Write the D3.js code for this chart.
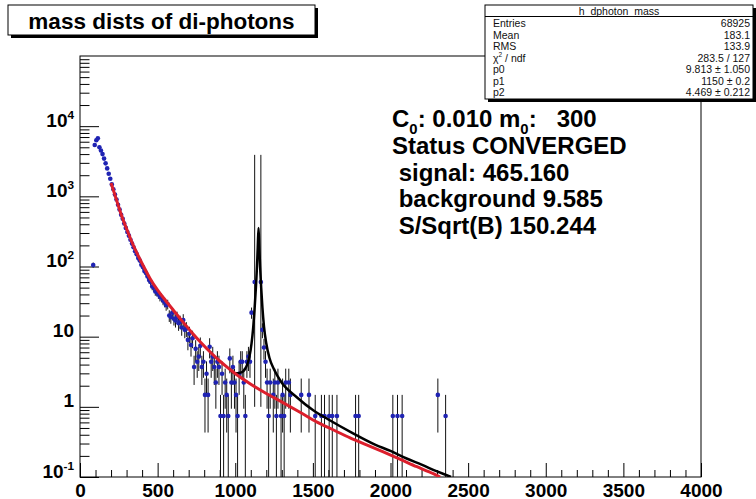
<!DOCTYPE html>
<html>
<head>
<meta charset="utf-8">
<script src="https://cdn.jsdelivr.net/npm/d3@7"></script>
<style>
  body { margin: 0; background: #fff; }
  svg { display: block; }
  text { font-family: "Liberation Sans", Arial, Helvetica, sans-serif; }
</style>
</head>
<body>
<svg id="chart" width="756" height="499"></svg>
<script>
// ---- histogram bins (bin centre in mass, content, lower / upper error) ----
const massBins = [
  85, 95, 105, 115, 125, 135, 145, 155, 165, 175, 185, 195, 205, 215, 225, 235, 245, 255, 265, 275,
  285, 295, 305, 315, 325, 335, 345, 355, 365, 375, 385, 395, 405, 415, 425, 435, 445, 455, 465, 475,
  485, 495, 505, 515, 525, 535, 545, 555, 565, 575, 585, 595, 605, 615, 625, 635, 645, 655, 665, 675,
  685, 695, 705, 715, 725, 735, 745, 755, 765, 775, 785, 795, 805, 815, 825, 835, 845, 855, 865, 875,
  885, 895, 905, 915, 925, 935, 945, 955, 965, 975, 985, 995, 1005, 1015, 1025, 1035, 1045, 1055, 1065, 1075,
  1085, 1095, 1105, 1125, 1165, 1175, 1185, 1195, 1205, 1215, 1225, 1245, 1255, 1265, 1275, 1295, 1305, 1315, 1325, 1345,
  1355, 1425, 1475, 1515, 1555, 1575, 1605, 1625, 1655, 1775, 1795, 2015, 2045, 2075, 2305, 2355
];
const binValues = [
  105, 5400, 6300, 6700, 5000, 4500, 4000, 3450, 2950, 2500, 2100, 1780, 1480, 1260, 1060, 900, 760, 650, 545, 480,
  410, 355, 310, 275, 240, 212, 188, 165, 150, 132, 122, 106, 98, 86, 81, 72, 64, 60, 52, 50,
  44, 43, 40, 37, 36, 33, 31, 28, 29, 20, 19, 22, 18, 17, 19, 15.5, 16.4, 13.5, 17.3, 12.5,
  13, 9, 11, 7.6, 9.5, 3.7, 6.7, 4.4, 5.2, 7.4, 3.7, 4.4, 1.48, 2.96, 1.48, 7.2, 4.4, 5.2, 3.7, 2.22,
  4.4, 3.7, 0.74, 2.96, 0.74, 2.22, 1.48, 0.74, 4.9, 2.22, 3.7, 2.22, 1.48, 0.74, 2.96, 4.4, 4.4, 2.22, 0.74, 4.4,
  5.2, 4.4, 22, 60, 60, 12.5, 7, 4.4, 2.22, 0.74, 2.22, 1.48, 2.22, 0.74, 2.22, 0.74, 1.48, 0.74, 2.22, 2.22,
  1.48, 1.48, 1.48, 0.74, 0.74, 0.74, 0.74, 0.74, 0.74, 0.74, 0.74, 0.74, 0.74, 0.74, 1.48, 0.74
];
const binErrLo = [
  8.8, 63, 68, 70, 61, 58, 54, 50, 47, 43, 39, 36, 33, 31, 28, 26, 24, 22, 20, 19,
  17, 16, 15, 14, 13, 12.5, 12, 11, 10.5, 10, 9.5, 8.9, 8.5, 8, 7.7, 7.3, 6.9, 6.7, 6.2, 6.1,
  5.7, 5.6, 5.4, 5.2, 5.2, 4.9, 4.8, 4.6, 4.6, 3.8, 3.7, 4.0, 3.6, 3.5, 3.7, 3.4, 3.5, 3.2, 3.6, 3.0,
  3.1, 2.6, 2.85, 2.4, 2.65, 1.65, 2.2, 1.81, 1.96, 2.34, 1.65, 1.81, 1.05, 1.48, 1.05, 2.3, 1.81, 1.96, 1.65, 1.28,
  1.81, 1.65, 0.74, 1.48, 0.74, 1.28, 1.05, 0.74, 1.9, 1.28, 1.65, 1.28, 1.05, 0.74, 1.48, 1.81, 1.81, 1.28, 0.74, 1.81,
  1.96, 1.81, 4.0, 59, 59, 3.0, 2.3, 1.81, 1.28, 0.74, 1.28, 1.05, 1.28, 0.74, 1.28, 0.74, 1.05, 0.74, 1.28, 1.28,
  1.05, 1.05, 1.05, 0.74, 0.74, 0.74, 0.74, 0.74, 0.74, 0.74, 0.74, 0.74, 0.74, 0.74, 1.05, 0.74
];
const binErrHi = [
  8.8, 63, 68, 70, 61, 58, 54, 50, 47, 43, 39, 36, 33, 31, 28, 26, 24, 22, 20, 19,
  17, 16, 15, 14, 13, 12.5, 12, 11, 10.5, 10, 9.5, 8.9, 8.5, 8, 7.7, 7.3, 6.9, 6.7, 6.2, 6.1,
  5.7, 5.6, 5.4, 5.2, 5.2, 4.9, 4.8, 4.6, 4.6, 3.8, 3.7, 4.0, 3.6, 3.5, 3.7, 3.4, 3.5, 3.2, 3.6, 3.0,
  3.1, 2.6, 2.85, 2.4, 2.65, 1.65, 2.2, 1.81, 1.96, 2.34, 1.65, 1.81, 1.05, 1.48, 1.05, 2.3, 1.81, 1.96, 1.65, 1.28,
  1.81, 1.65, 0.74, 1.48, 0.74, 1.28, 1.05, 0.74, 1.9, 1.28, 1.65, 1.28, 1.05, 0.74, 1.48, 1.81, 1.81, 1.28, 0.74, 1.81,
  1.96, 1.81, 4.0, 3840, 3840, 3.0, 2.3, 1.81, 1.28, 0.74, 1.28, 1.05, 1.28, 0.74, 1.28, 0.74, 1.05, 0.74, 1.28, 1.28,
  1.05, 1.05, 1.05, 0.74, 0.74, 0.74, 0.74, 0.74, 0.74, 0.74, 0.74, 0.74, 0.74, 0.74, 1.05, 0.74
];

// ---- background fit (red) and signal + background fit (black) ----
const bkgMass   = [200, 220, 240, 260, 280, 300, 330, 370, 410, 450, 500, 550, 600, 660, 720, 780, 840, 900, 960, 1010,
                   1100, 1200, 1310, 1420, 1530, 1640, 1740, 1850, 1950, 2060, 2170, 2250, 2320];
const bkgValues = [1550, 1130, 820, 600, 450, 345, 235, 150, 100, 68, 46, 33, 24, 16.5, 11.5, 8.2, 6, 4.5, 3.5, 2.86,
                   2.1, 1.55, 1.14, 0.83, 0.6, 0.46, 0.36, 0.285, 0.23, 0.18, 0.14, 0.118, 0.1];
const totalMass   = [960, 1000, 1040, 1070, 1090, 1105, 1115, 1125, 1133, 1140, 1145, 1150, 1155, 1160, 1167, 1175,
                     1185, 1200, 1220, 1250, 1300, 1400, 1500, 1600, 1750, 1900, 2000, 2100, 2200, 2300, 2390];
const totalValues = [3.5, 3.0, 3.1, 3.7, 5, 8, 13, 26, 50, 100, 190, 355, 190, 100, 50, 26,
                     14, 8, 5, 3.4, 2.2, 1.35, 0.9, 0.66, 0.43, 0.29, 0.235, 0.185, 0.15, 0.12, 0.1];

// ---- axes ----
const xTickValues = [0, 500, 1000, 1500, 2000, 2500, 3000, 3500, 4000];
const yTickValues = [0.1, 1, 10, 100, 1000, 10000];
const yTickLabels = ["10^{-1}", "1", "10", "10^{2}", "10^{3}", "10^{4}"];

// ---- texts ----
const titleText = "mass dists of di-photons";
const statsTitle = "h_dphoton_mass";
const statsLabels = ["Entries", "Mean", "RMS", "\u03C7^{2} / ndf", "p0", "p1", "p2"];
const statsValues = ["68925", "183.1", "133.9", "283.5 / 127", "9.813 \u00B1 1.050", "1150 \u00B1 0.2", "4.469 \u00B1 0.212"];
const fitInfoLines = ["C_{0}: 0.010 m_{0}:   300", "Status CONVERGED", " signal: 465.160", " background 9.585", " S/Sqrt(B) 150.244"];

// ---------------------------------------------------------------------------
const W = 756, H = 499;
const frame = { left: 80, right: 701, top: 56, bottom: 477 };

const svg = d3.select("#chart");
svg.append("rect").attr("width", W).attr("height", H).attr("fill", "#fff");

const x = d3.scaleLinear().domain([0, 4000]).range([frame.left, frame.right]);
const y = d3.scaleLog().domain([0.1, 1e5]).range([frame.bottom, frame.top]);

// TLatex-like helper: handles _{..} and ^{..}
function latex(sel, str, size) {
  const parts = str.split(/(_\{[^}]*\}|\^\{[^}]*\})/).filter(s => s.length);
  let shift = 0;
  parts.forEach(p => {
    let t = p, dy = 0, fs = size;
    if (p.startsWith("_{")) { t = p.slice(2, -1); dy = size * 0.28; fs = size * 0.62; }
    else if (p.startsWith("^{")) { t = p.slice(2, -1); dy = -size * 0.42; fs = size * 0.62; }
    sel.append("tspan").attr("dy", dy - shift).attr("font-size", fs).text(t);
    shift = dy;
  });
}

svg.append("defs").append("clipPath").attr("id", "plotClip")
  .append("rect")
  .attr("x", frame.left).attr("y", frame.top)
  .attr("width", frame.right - frame.left).attr("height", frame.bottom - frame.top);

// ---- x axis (ticks pointing into the frame) ----
const xMinor = d3.range(0, 4001, 100).filter(v => v % 500 !== 0);
svg.append("g").attr("transform", `translate(0,${frame.bottom})`)
  .call(d3.axisBottom(x).tickValues(xMinor).tickSize(-7).tickFormat(""))
  .call(g => g.select(".domain").remove())
  .call(g => g.selectAll("line").attr("stroke", "#000"));
svg.append("g").attr("transform", `translate(0,${frame.bottom})`)
  .call(d3.axisBottom(x).tickValues(xTickValues).tickSize(-14).tickPadding(7).tickFormat(d3.format("d")))
  .call(g => g.select(".domain").remove())
  .call(g => g.selectAll("line").attr("stroke", "#000"))
  .call(g => g.selectAll("text")
    .attr("font-family", "'Liberation Sans', Arial, sans-serif")
    .attr("font-size", 19).attr("font-weight", "bold").attr("fill", "#000"));

// ---- y axis (log) ----
const yMinor = y.ticks().filter(v => Math.abs(Math.log10(v) - Math.round(Math.log10(v))) > 1e-6);
svg.append("g").attr("transform", `translate(${frame.left},0)`)
  .call(d3.axisLeft(y).tickValues(yMinor).tickSize(-9.5).tickFormat(""))
  .call(g => g.select(".domain").remove())
  .call(g => g.selectAll("line").attr("stroke", "#000"));
const yAxis = svg.append("g").attr("transform", `translate(${frame.left},0)`)
  .call(d3.axisLeft(y).tickValues(yTickValues).tickSize(-19).tickFormat(""))
  .call(g => g.select(".domain").remove())
  .call(g => g.selectAll("line").attr("stroke", "#000"));
yAxis.selectAll(".tick").each(function (d) {
  const i = yTickValues.indexOf(d);
  const t = d3.select(this).append("text")
    .attr("x", -6).attr("y", 0).attr("dy", "0.36em")
    .attr("text-anchor", "end").attr("fill", "#000")
    .attr("font-size", 19).attr("font-weight", "bold");
  latex(t, yTickLabels[i], 19);
});

// ---- frame ----
svg.append("rect")
  .attr("x", frame.left).attr("y", frame.top)
  .attr("width", frame.right - frame.left).attr("height", frame.bottom - frame.top)
  .attr("fill", "none").attr("stroke", "#000").attr("stroke-width", 1);

// ---- histogram with error bars ----
const plotG = svg.append("g").attr("clip-path", "url(#plotClip)");
const bins = massBins.map((m, i) => ({ m, v: binValues[i], lo: binErrLo[i], hi: binErrHi[i] }));
const yLow = d => (d.v - d.lo > 0.1 ? y(d.v - d.lo) : frame.bottom);

plotG.append("g").selectAll("line").data(bins).join("line")
  .attr("x1", d => x(d.m)).attr("x2", d => x(d.m))
  .attr("y1", d => yLow(d)).attr("y2", d => y(d.v + d.hi))
  .attr("stroke", "#111").attr("stroke-width", 1);

plotG.append("g").selectAll("circle").data(bins).join("circle")
  .attr("cx", d => x(d.m)).attr("cy", d => y(d.v)).attr("r", 2.3)
  .attr("fill", "#1f23b3");

// ---- fitted curves ----
const curveLine = d3.line().x(d => x(d[0])).y(d => y(d[1])).curve(d3.curveMonotoneX);
plotG.append("path").datum(d3.zip(totalMass, totalValues))
  .attr("d", curveLine).attr("fill", "none").attr("stroke", "#000").attr("stroke-width", 2.5);
plotG.append("path").datum(d3.zip(bkgMass, bkgValues))
  .attr("d", curveLine).attr("fill", "none").attr("stroke", "#dc1f2c").attr("stroke-width", 3);

// ---- fit summary text ----
const fitX = [392, 392, 392, 392, 392];
const fitY = [127, 153.5, 180.5, 207, 233.5];
fitInfoLines.forEach((s, i) => {
  const t = svg.append("text").attr("x", fitX[i]).attr("y", fitY[i])
    .attr("font-size", 24).attr("font-weight", "bold").attr("fill", "#000")
    .style("white-space", "pre");
  latex(t, s, 24);
});

// ---- title box ----
svg.append("rect").attr("x", 11).attr("y", 8).attr("width", 307).attr("height", 30).attr("fill", "#000");
svg.append("rect").attr("x", 8).attr("y", 5).attr("width", 307).attr("height", 30)
  .attr("fill", "#fff").attr("stroke", "#000").attr("stroke-width", 1);
svg.append("text").attr("x", 161.5).attr("y", 28.5).attr("text-anchor", "middle")
  .attr("font-size", 22.5).attr("font-weight", "bold").attr("fill", "#000").text(titleText);

// ---- statistics box ----
const sb = { x: 485, y: 5, w: 268, h: 94 };
svg.append("rect").attr("x", sb.x + 3).attr("y", sb.y + 3).attr("width", sb.w).attr("height", sb.h).attr("fill", "#000");
svg.append("rect").attr("x", sb.x).attr("y", sb.y).attr("width", sb.w).attr("height", sb.h)
  .attr("fill", "#fff").attr("stroke", "#000").attr("stroke-width", 1);
svg.append("line").attr("x1", sb.x).attr("x2", sb.x + sb.w).attr("y1", 16.5).attr("y2", 16.5)
  .attr("stroke", "#000").attr("stroke-width", 1);
svg.append("text").attr("x", sb.x + sb.w / 2).attr("y", 14.5).attr("text-anchor", "middle")
  .attr("font-size", 10.5).attr("fill", "#111").text(statsTitle);
statsLabels.forEach((s, i) => {
  const t = svg.append("text").attr("x", sb.x + 8).attr("y", 27 + i * 11.5)
    .attr("font-size", 10.5).attr("fill", "#111");
  latex(t, s, 10.5);
});
statsValues.forEach((s, i) => {
  svg.append("text").attr("x", sb.x + sb.w - 3).attr("y", 27 + i * 11.5)
    .attr("text-anchor", "end").attr("font-size", 10.5).attr("fill", "#111").text(s);
});
</script>
</body>
</html>
